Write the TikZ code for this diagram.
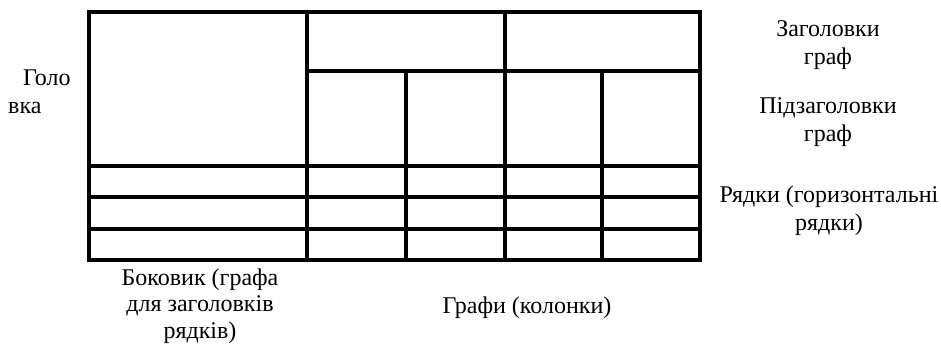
\documentclass[tikz,border=0pt]{standalone}
\usepackage{fontspec}
\setmainfont{Liberation Serif}
\newfontfamily\lserif{Liberation Serif}
\begin{document}
\begin{tikzpicture}[x=1pt,y=-1pt,
  every node/.style={font=\lserif\fontsize{24}{28}\selectfont,inner sep=0pt,align=center}]
  \useasboundingbox (0,0) rectangle (941,343);
  % table frame and rules
  \draw[line width=3.3pt] (89,12) rectangle (700,260);
  \draw[line width=3.3pt] (307,12) -- (307,260);
  \draw[line width=3.3pt] (505,12) -- (505,260);
  \draw[line width=3.3pt] (307,71) -- (700,71);
  \foreach \x in {406,602}
    \draw[line width=3.3pt] (\x,71) -- (\x,260);
  \foreach \y in {166,197,229}
    \draw[line width=3.3pt] (89,\y) -- (700,\y);
  % labels
  \node[anchor=west,align=left] (golovka) at (8,92) {\hspace{15pt}Голо\\вка};
  \node (zagol) at (828,45) {Заголовки\\граф};
  \node (pidzagol) at (828,122) {Підзаголовки\\граф};
  \node (ryadky) at (829,211) {Рядки (горизонтальні\\рядки)};
  \node[font=\lserif\fontsize{24}{26.5}\selectfont] (bokovyk) at (200,306) {Боковик (графа\\для заголовків\\рядків)};
  \node (hrafy) at (527,308) {Графи (колонки)};
\end{tikzpicture}
\end{document}
